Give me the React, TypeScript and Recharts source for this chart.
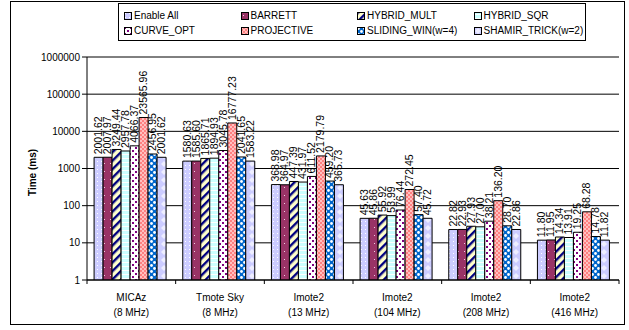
import React from 'react';
import { BarChart, Bar, XAxis, YAxis, CartesianGrid, Legend, LabelList } from 'recharts';

const FONT = "'Liberation Sans', Arial, Helvetica, sans-serif";

// Platforms (two text lines per category)
const platformNames = ['MICAz', 'Tmote Sky', 'Imote2', 'Imote2', 'Imote2', 'Imote2'];
const clockRates = ['(8 MHz)', '(8 MHz)', '(13 MHz)', '(104 MHz)', '(208 MHz)', '(416 MHz)'];

// Execution time in ms for each optimisation setting
const enableAll = [2001.62, 1580.63, 368.98, 45.63, 22.82, 11.8];
const barrett = [2007.97, 1585.6, 364.97, 45.86, 22.93, 11.95];
const hybridMult = [3249.44, 1865.71, 447.39, 55.92, 27.93, 14.34];
const hybridSqr = [2957.78, 1894.93, 431.97, 53.99, 27.0, 13.91];
const curveOpt = [4066.37, 3045.78, 611.52, 76.44, 38.21, 19.25];
const projective = [23565.96, 16777.23, 2179.79, 272.45, 136.2, 68.28];
const slidingWin = [2456.95, 2041.65, 459.2, 57.4, 28.7, 14.78];
const shamirTrick = [2001.62, 1583.22, 365.73, 45.72, 22.86, 11.82];

const yTicks = [1, 10, 100, 1000, 10000, 100000, 1000000];

const series = [
  { key: 'enableAll', name: 'Enable All', values: enableAll, pattern: 'pat-enable' },
  { key: 'barrett', name: 'BARRETT', values: barrett, pattern: 'pat-barrett' },
  { key: 'hybridMult', name: 'HYBRID_MULT', values: hybridMult, pattern: 'pat-hmult' },
  { key: 'hybridSqr', name: 'HYBRID_SQR', values: hybridSqr, pattern: 'pat-hsqr' },
  { key: 'curveOpt', name: 'CURVE_OPT', values: curveOpt, pattern: 'pat-curve' },
  { key: 'projective', name: 'PROJECTIVE', values: projective, pattern: 'pat-proj' },
  { key: 'slidingWin', name: 'SLIDING_WIN(w=4)', values: slidingWin, pattern: 'pat-slide' },
  { key: 'shamirTrick', name: 'SHAMIR_TRICK(w=2)', values: shamirTrick, pattern: 'pat-shamir' },
];

const rows = platformNames.map((name, i) => {
  const row: Record<string, string | number> = { label: `${name}\n${clockRates[i]}` };
  series.forEach((s) => {
    row[s.key] = s.values[i];
  });
  return row;
});

const BarValueLabel = (props: any) => {
  const { x, y, width, value } = props;
  const cx = Number(x) + Number(width) / 2 - 0.5;
  const ty = Number(y) - 3;
  return (
    <text
      x={cx}
      y={ty}
      transform={`rotate(-90 ${cx} ${ty})`}
      textAnchor="start"
      dominantBaseline="central"
      fontSize={10.5}
      fontFamily={FONT}
      fill="#000"
    >
      {Number(value).toFixed(2)}
    </text>
  );
};

const PlatformTick = (props: any) => {
  const { x, y, payload, index, visibleTicksCount } = props;
  const half = payload && typeof payload.offset === 'number' ? payload.offset : 44.3;
  const [name, clock] = String(payload.value).split('\n');
  return (
    <g>
      <line x1={x - half} x2={x - half} y1={y} y2={y + 4} stroke="#000" />
      {index === visibleTicksCount - 1 && (
        <line x1={x + half} x2={x + half} y1={y} y2={y + 4} stroke="#000" />
      )}
      <text x={x} y={y + 20.5} textAnchor="middle" fontSize={10} fontFamily={FONT} fill="#000">
        {name}
      </text>
      <text x={x} y={y + 35.5} textAnchor="middle" fontSize={10} fontFamily={FONT} fill="#000">
        {clock}
      </text>
    </g>
  );
};

const YTitle = (props: any) => {
  const vb = props.viewBox || { x: 0, y: 57, width: 87, height: 223 };
  const cx = vb.x + 32;
  const cy = vb.y + vb.height / 2 + 4;
  return (
    <text
      x={cx}
      y={cy}
      transform={`rotate(-90 ${cx} ${cy})`}
      textAnchor="middle"
      dominantBaseline="central"
      fontSize={10}
      fontWeight="bold"
      fontFamily={FONT}
      fill="#000"
    >
      Time (ms)
    </text>
  );
};

// Legend keeps the series order, four entries per row
const LegendBox = () => (
  <div
    style={{
      boxSizing: 'border-box',
      width: 468,
      height: 38,
      border: '1px solid #000',
      background: '#fff',
      display: 'grid',
      gridTemplateColumns: 'repeat(4, 116.5px)',
      gridTemplateRows: '15px 15px',
      paddingTop: 4,
      paddingLeft: 5,
      fontFamily: FONT,
      fontSize: 10,
      color: '#000',
    }}
  >
    {series.map((s) => (
      <div key={s.key} style={{ display: 'flex', alignItems: 'center', height: 15 }}>
        <svg width={8} height={8} style={{ marginRight: 2, flex: 'none' }}>
          <rect x={0.5} y={0.5} width={7} height={7} fill={`url(#${s.pattern})`} stroke="#000" />
        </svg>
        <span style={{ whiteSpace: 'nowrap', lineHeight: '15px' }}>{s.name}</span>
      </div>
    ))}
  </div>
);

export default function App() {
  return (
    <div style={{ position: 'absolute', left: 0, top: 0, width: 629, height: 330, background: '#fff' }}>
      <div
        style={{
          position: 'absolute',
          left: 10,
          top: 1,
          width: 613,
          height: 322,
          border: '1px solid #000',
        }}
      />
      <BarChart
        width={629}
        height={330}
        data={rows}
        margin={{ top: 57, right: 10, bottom: 9, left: 0 }}
        barCategoryGap="8%"
        barGap={0}
      >
        <defs>
          <pattern id="pat-enable" width="4" height="4" patternUnits="userSpaceOnUse">
            <rect width="4" height="4" fill="#ccccff" />
            <rect x="1" y="1" width="1" height="1" fill="#ffffff" />
          </pattern>
          <pattern id="pat-barrett" width="6" height="8" patternUnits="userSpaceOnUse">
            <rect width="6" height="8" fill="#993366" />
            <rect x="2" y="3" width="1" height="1" fill="#f0d0e0" />
          </pattern>
          <pattern id="pat-hmult" width="6" height="6" patternUnits="userSpaceOnUse" patternTransform="rotate(45)">
            <rect width="6" height="6" fill="#ffffcc" />
            <rect width="2.4" height="6" fill="#000080" />
          </pattern>
          <pattern id="pat-hsqr" width="4" height="4" patternUnits="userSpaceOnUse">
            <rect width="4" height="4" fill="#ccffff" />
            <rect y="2" width="4" height="1" fill="#ffffff" />
          </pattern>
          <pattern id="pat-curve" width="6" height="6" patternUnits="userSpaceOnUse">
            <rect width="6" height="6" fill="#ffffff" />
            <rect x="0" y="0" width="2" height="2" fill="#800080" />
            <rect x="3" y="3" width="2" height="2" fill="#800080" />
          </pattern>
          <pattern id="pat-proj" width="4" height="4" patternUnits="userSpaceOnUse">
            <rect width="4" height="4" fill="#ff8080" />
            <rect x="0" y="0" width="2" height="2" fill="#ffc0c0" />
            <rect x="2" y="2" width="2" height="2" fill="#ffc0c0" />
          </pattern>
          <pattern id="pat-slide" width="6" height="6" patternUnits="userSpaceOnUse">
            <rect width="6" height="6" fill="#0066cc" />
            <circle cx="1.5" cy="1.5" r="1.4" fill="#ffffff" />
            <circle cx="4.5" cy="4.5" r="1.4" fill="#ffffff" />
          </pattern>
          <pattern id="pat-shamir" width="8" height="8" patternUnits="userSpaceOnUse">
            <rect width="8" height="8" fill="#ccccff" />
            <polygon points="4,1 7,4 4,7 1,4" fill="#eeeeff" />
          </pattern>
        </defs>
        <CartesianGrid vertical={false} stroke="#000" strokeWidth={1} />
        <XAxis
          dataKey="label"
          interval={0}
          tickLine={false}
          tickSize={0}
          tickMargin={0}
          height={41}
          axisLine={{ stroke: '#000' }}
          tick={<PlatformTick />}
        />
        <YAxis
          scale="log"
          domain={[1, 1000000]}
          ticks={yTicks}
          allowDataOverflow
          interval={0}
          width={87}
          tickSize={5}
          tickMargin={2}
          axisLine={{ stroke: '#000' }}
          tickLine={{ stroke: '#000' }}
          tick={{ fill: '#000', fontSize: 10, fontFamily: FONT }}
          tickFormatter={(v: number) => String(v)}
          label={<YTitle />}
        />
        <Legend
          layout="vertical"
          verticalAlign="middle"
          align="center"
          content={<LegendBox />}
          wrapperStyle={{ position: 'absolute', left: 118, top: 3, width: 468, height: 38 }}
        />
        {series.map((s) => (
          <Bar
            key={s.key}
            dataKey={s.key}
            name={s.name}
            fill={`url(#${s.pattern})`}
            stroke="#000"
            strokeWidth={1}
            isAnimationActive={false}
          >
            <LabelList dataKey={s.key} content={<BarValueLabel />} />
          </Bar>
        ))}
      </BarChart>
    </div>
  );
}
